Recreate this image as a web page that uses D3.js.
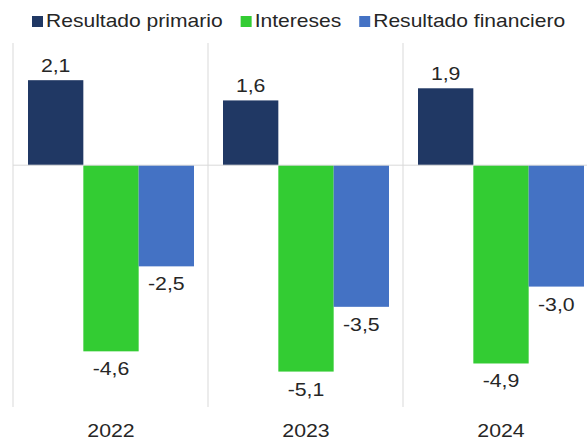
<!DOCTYPE html>
<html>
<head>
<meta charset="utf-8">
<script src="https://cdn.jsdelivr.net/npm/d3@7"></script>
<style>
  body { margin: 0; background: #fff; }
  svg { display: block; font-family: "Liberation Sans", Arial, sans-serif; }
</style>
</head>
<body>
<svg id="chart" width="587" height="440"></svg>
<script>
// data
var years = ["2022", "2023", "2024"];
var seriesNames = ["Resultado primario", "Intereses", "Resultado financiero"];
var primario = [2.1, 1.6, 1.9];
var intereses = [-4.6, -5.1, -4.9];
var financiero = [-2.5, -3.5, -3.0];
var colors = ["#203864", "#33cc33", "#4472c4"];

var seriesValues = [primario, intereses, financiero];

var svg = d3.select("#chart");
var stretch = 1.12; // picture text is a bit wide

var loc = d3.formatLocale({decimal: ",", thousands: ".", grouping: [3], currency: ["", ""], minus: "-"});
var fmt = loc.format(".1f");

// scales
var x0 = d3.scaleBand().domain(years).range([13, 598]).padding(0);
var x1 = d3.scaleBand().domain(seriesNames).range([15, 181]).padding(0);
var y = d3.scaleLinear().domain([-6, 2.5]).range([408, 64]);

// vertical separators
svg.append("g").selectAll("line")
    .data(years)
    .enter().append("line")
    .attr("x1", function(d) { return x0(d); })
    .attr("x2", function(d) { return x0(d); })
    .attr("y1", 43)
    .attr("y2", 407)
    .attr("stroke", "#d9d9d9")
    .attr("stroke-width", 1);

// bars
var groups = svg.append("g").selectAll("g")
    .data(years)
    .enter().append("g")
    .attr("transform", function(d) { return "translate(" + x0(d) + ",0)"; });

var cells = groups.selectAll("rect")
    .data(function(d, i) {
        return seriesNames.map(function(s, j) { return {name: s, value: seriesValues[j][i], k: j}; });
    })
    .enter();

cells.append("rect")
    .attr("x", function(d) { return x1(d.name); })
    .attr("width", x1.bandwidth())
    .attr("y", function(d) { return y(Math.max(0, d.value)); })
    .attr("height", function(d) { return Math.abs(y(d.value) - y(0)); })
    .attr("fill", function(d) { return colors[d.k]; });

// zero line
svg.append("line")
    .attr("x1", 13).attr("x2", 587)
    .attr("y1", y(0)).attr("y2", y(0))
    .attr("stroke", "#d9d9d9")
    .attr("stroke-width", 1);

// value labels
cells.append("text")
    .attr("transform", function(d) {
        var cx = x1(d.name) + x1.bandwidth() / 2;
        var cy = d.value >= 0 ? y(d.value) - 8 : y(d.value) + 24;
        return "translate(" + cx + "," + cy + ") scale(" + stretch + ",1)";
    })
    .attr("text-anchor", "middle")
    .attr("font-size", 19)
    .attr("fill", "#262626")
    .text(function(d) { return fmt(d.value); });

// year labels
svg.append("g").selectAll("text")
    .data(years)
    .enter().append("text")
    .attr("transform", function(d) {
        return "translate(" + (x0(d) + 98) + ",437) scale(" + stretch + ",1)";
    })
    .attr("text-anchor", "middle")
    .attr("font-size", 19)
    .attr("fill", "#262626")
    .text(function(d) { return d; });

// legend
var legend = svg.append("g");
var lx = 32;
seriesNames.forEach(function(s, i) {
    legend.append("rect")
        .attr("x", lx).attr("y", 16)
        .attr("width", 11).attr("height", 11)
        .attr("fill", colors[i]);
    var t = legend.append("text")
        .attr("transform", "translate(" + (lx + 14) + ",27) scale(1.17,1)")
        .attr("font-size", 18)
        .attr("fill", "#262626")
        .text(s);
    lx += 14 + t.node().getComputedTextLength() * 1.17 + 18;
});
</script>
</body>
</html>
